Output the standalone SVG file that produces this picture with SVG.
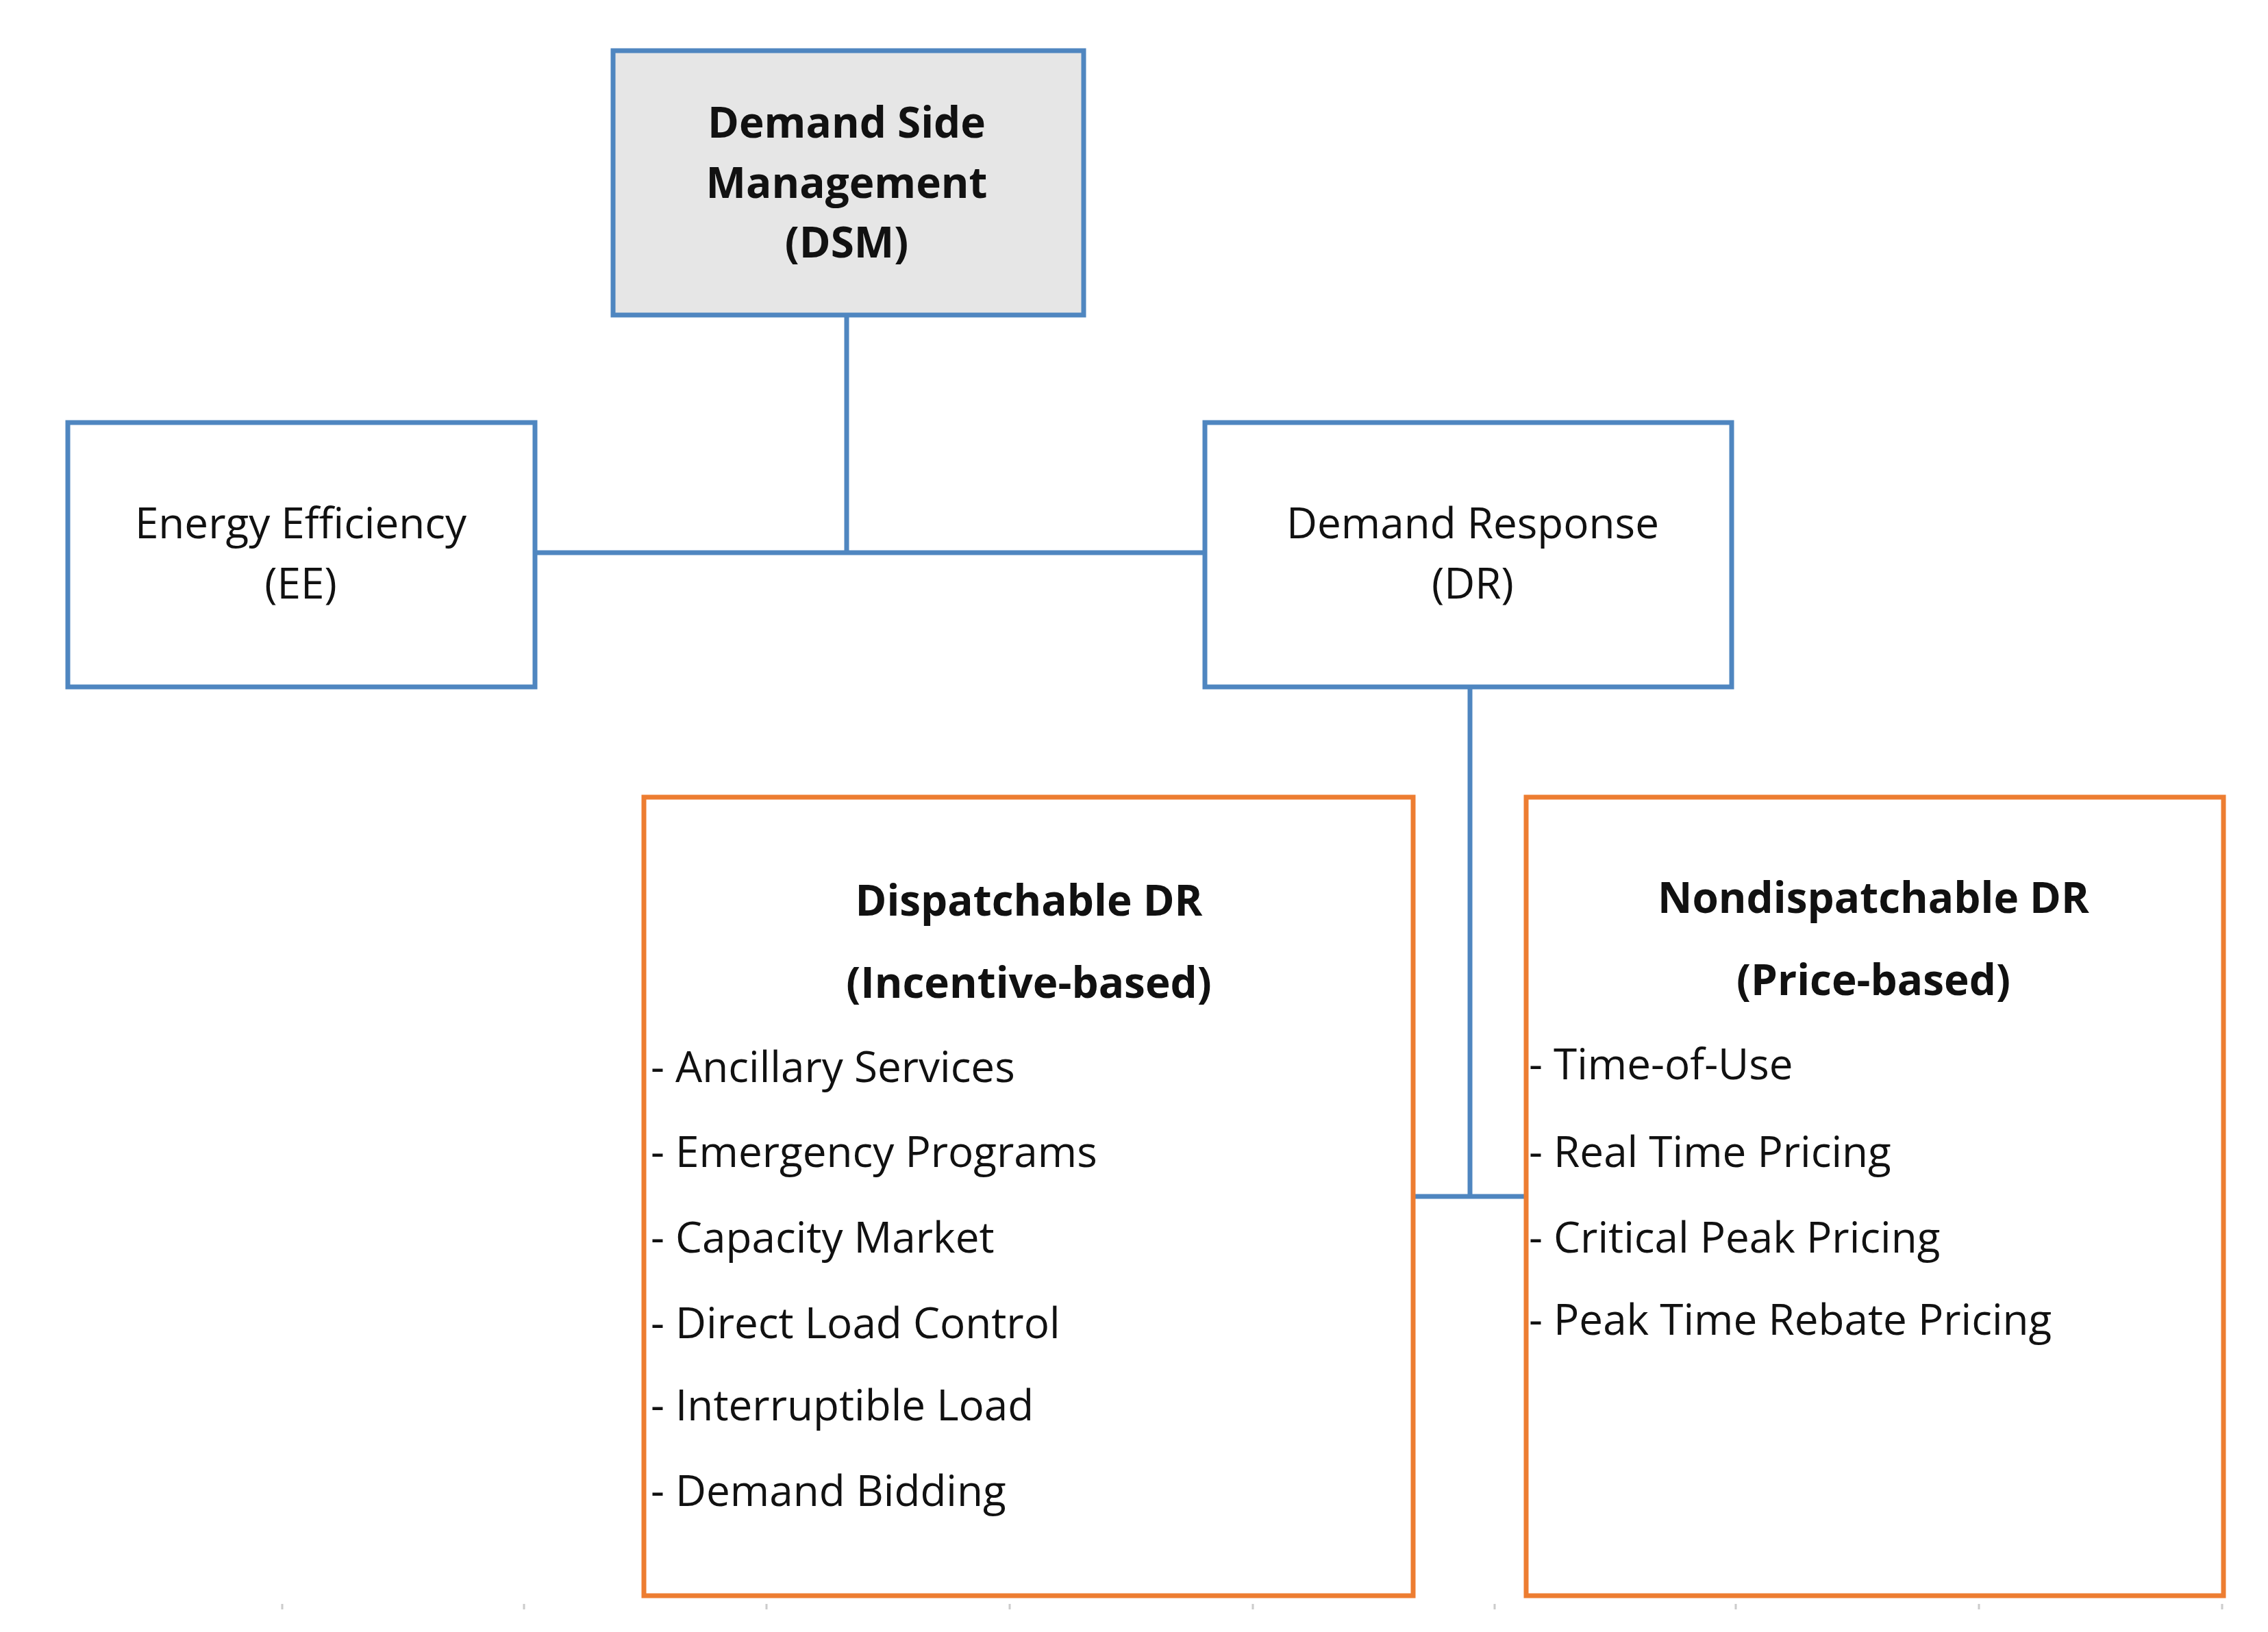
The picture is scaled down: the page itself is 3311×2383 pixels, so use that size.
<svg xmlns="http://www.w3.org/2000/svg" width="3311" height="2383" viewBox="0 0 3311 2383">
<style>
.b{fill:#fff;stroke:#4F86C0;stroke-width:7}
.o{fill:#fff;stroke:#ED7D31;stroke-width:7}
.c{fill:none;stroke:#4F86C0;stroke-width:7}
text{font-family:"Open Sans","Liberation Sans",sans-serif;font-size:62px;fill:#111}
.m{text-anchor:middle}
.h{font-weight:bold}
.t{stroke:#ccc;stroke-width:3}
</style>
<rect width="3311" height="2383" fill="#fff"/>
<g id="connectors">
<path class="c" d="M1236 460V807M781 807H1759M2146 1003V1747M2063 1747H2228"/>
</g>
<g id="dsm"><rect class="b" x="895" y="74" width="687" height="386" style="fill:#E6E6E6"/>
<text class="m h" x="1236" y="201">Demand Side</text><text class="m h" x="1236" y="289">Management</text><text class="m h" x="1236" y="376">(DSM)</text></g>
<g id="ee"><rect class="b" x="99" y="617" width="682" height="386"/>
<text class="m" x="439" y="786">Energy Efficiency</text><text class="m" x="439" y="874">(EE)</text></g>
<g id="dr"><rect class="b" x="1759" y="617" width="769" height="386"/>
<text class="m" x="2150" y="786">Demand Response</text><text class="m" x="2150" y="874">(DR)</text></g>
<g id="disp"><rect class="o" x="940" y="1164" width="1123" height="1166"/>
<text class="m h" x="1502" y="1337">Dispatchable DR</text><text class="m h" x="1502" y="1457">(Incentive-based)</text>
<text x="950" y="1580">- Ancillary Services</text>
<text x="950" y="1704">- Emergency Programs</text>
<text x="950" y="1829">- Capacity Market</text>
<text x="950" y="1954">- Direct Load Control</text>
<text x="950" y="2074">- Interruptible Load</text>
<text x="950" y="2199">- Demand Bidding</text></g>
<g id="nondisp"><rect class="o" x="2228" y="1164" width="1018" height="1166"/>
<text class="m h" x="2735" y="1333">Nondispatchable DR</text><text class="m h" x="2735" y="1453">(Price-based)</text>
<text x="2232" y="1576">- Time-of-Use</text>
<text x="2232" y="1704">- Real Time Pricing</text>
<text x="2232" y="1829">- Critical Peak Pricing</text>
<text x="2232" y="1949">- Peak Time Rebate Pricing</text></g>
<g id="ticks">
<path class="t" d="M412 2342v8M765 2342v8M1119 2342v8M1474 2342v8M1829 2342v8M2182 2342v8M2534 2342v8M2889 2342v8M3244 2342v8"/>
</g>
</svg>
